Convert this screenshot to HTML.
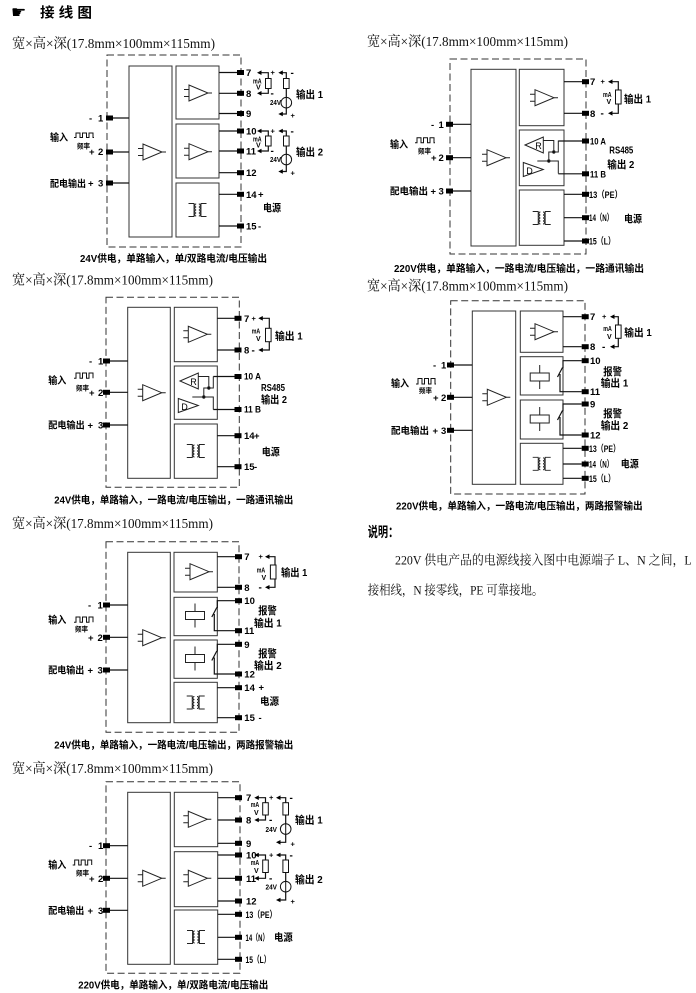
<!DOCTYPE html>
<html><head><meta charset="utf-8">
<style>
html,body{margin:0;padding:0;background:#fff;}
svg{display:block;}
.s{font-family:"Liberation Serif","Noto Serif CJK SC",serif;fill:#111;}
.b{font-family:"Liberation Sans","Noto Sans CJK SC",sans-serif;font-weight:bold;fill:#000;}
.n{font-family:"Liberation Sans","Noto Sans CJK SC",sans-serif;fill:#000;}
.bx{fill:none;stroke:#333;stroke-width:1;}
.ds{fill:none;stroke:#333;stroke-width:1;stroke-dasharray:7,3.5;}
.ln{fill:none;stroke:#111;stroke-width:1.2;}
.th{fill:none;stroke:#111;stroke-width:1;}
.rs{fill:#fff;stroke:#111;stroke-width:1;}
</style></head><body>
<svg width="696" height="993" viewBox="0 0 696 993" xmlns="http://www.w3.org/2000/svg">
<defs>
<g id="amp" fill="none" stroke="#222" stroke-width="1"><path d="M0,-8 L0,8 L19,0 Z"/><path d="M-5,-3.5 H0 M-5,3.5 H0 M19,0 H23"/></g>
<g id="xf" fill="none" stroke="#222" stroke-width="0.9"><path d="M-9,-6.5 H-3.5 V6.5 H-9 M9,-6.5 H3.5 V6.5 H9"/><path d="M-1.3,-6 a1.5,1.5 0 0 0 0,3 a1.5,1.5 0 0 0 0,3 a1.5,1.5 0 0 0 0,3 a1.5,1.5 0 0 0 0,3 M1.3,-6 a1.5,1.5 0 0 1 0,3 a1.5,1.5 0 0 1 0,3 a1.5,1.5 0 0 1 0,3 a1.5,1.5 0 0 1 0,3"/></g>
<g id="rly" fill="none" stroke="#222" stroke-width="1"><rect x="-9.5" y="-4" width="19" height="8"/><path d="M0,-12 V-4 M0,4 V12"/></g>
<rect id="tm" width="7" height="5" fill="#000"/>
<path id="arw" d="M0,0 L4.5,-2.3 L4.5,2.3 Z" fill="#000"/>
<g id="rsx" fill="none" stroke="#222" stroke-width="1"><path d="M5.7,15 L24,7 L24,23 Z"/><path d="M4,32.5 L4,46.5 L24,39.5 Z"/><path d="M24,10.5 H34.5 V22 M39,10.5 V22 H29.5 V31 M18,31 H39 V43.5"/><circle cx="34.5" cy="22" r="1.2" fill="#000"/><circle cx="29.5" cy="31" r="1.2" fill="#000"/></g>
</defs>

<!-- Title -->
<text x="11" y="18" font-family="DejaVu Sans, sans-serif" font-size="17" fill="#000">☛</text>
<text class="b" x="40" y="17.5" font-size="14" textLength="52" lengthAdjust="spacingAndGlyphs">接 线 图</text>

<!-- ================= Diagram A ================= -->
<text class="s" x="12" y="48" font-size="14" textLength="203" lengthAdjust="spacingAndGlyphs">宽×高×深(17.8mm×100mm×115mm)</text>
<rect class="ds" x="107" y="55" width="134" height="192"/>
<rect class="bx" x="129" y="66" width="43" height="171"/>
<rect class="bx" x="176" y="66" width="43" height="53"/>
<rect class="bx" x="176" y="124" width="43" height="54"/>
<rect class="bx" x="176" y="183" width="43" height="54"/>
<path class="ln" d="M113,118 H129 M113,152 H129 M113,183 H129 M219,72.5 H237 M219,93.3 H237 M219,113.5 H237 M219,131 H237 M219,151 H237 M219,172.7 H237 M219,194.3 H237 M219,226 H237"/>
<use href="#tm" x="106" y="115.5"/><use href="#tm" x="106" y="149.5"/><use href="#tm" x="106" y="180.5"/>
<use href="#tm" x="237" y="70"/><use href="#tm" x="237" y="90.8"/><use href="#tm" x="237" y="111"/><use href="#tm" x="237" y="128.5"/><use href="#tm" x="237" y="148.5"/><use href="#tm" x="237" y="170.2"/><use href="#tm" x="237" y="191.8"/><use href="#tm" x="237" y="223.5"/>
<use href="#amp" x="143" y="152"/><use href="#amp" x="189" y="93"/><use href="#amp" x="189" y="151.7"/>
<use href="#xf" x="197.5" y="210"/>
<g class="b" font-size="9.5">
<text x="246" y="76">7</text><text x="246" y="96.8">8</text><text x="246" y="117">9</text><text x="246" y="134.5">10</text><text x="246" y="154.5">11</text><text x="246" y="176.2">12</text><text x="246" y="197.8">14</text><text x="258" y="197.5">+</text><text x="246" y="229.5">15</text><text x="258" y="229.5">-</text>
<text x="89" y="121.5">-</text><text x="98" y="121.5">1</text><text x="89" y="155">+</text><text x="98" y="155">2</text><text x="88" y="186.5">+</text><text x="98" y="186.5">3</text>
</g>
<text class="b" x="50" y="186.8" font-size="9.5" textLength="36" lengthAdjust="spacingAndGlyphs">配电输出</text>
<text class="b" x="50" y="141" font-size="10" textLength="18" lengthAdjust="spacingAndGlyphs">输入</text>
<path class="th" d="M74,137.5 H76 V133 H80 V137.5 H82.5 V133 H86.5 V137.5 H89 V133 H93 V137.5 H94"/>
<text class="b" x="77" y="148.5" font-size="7" textLength="13" lengthAdjust="spacingAndGlyphs">频率</text>
<!-- output 1 -->
<path class="ln" d="M261,72.7 H268.3 V93.3 H261 M282.5,72.7 H286.3 V114 H282.5"/>
<use href="#arw" x="257" y="72.7"/><use href="#arw" x="257" y="93.3"/><use href="#arw" x="278.3" y="72.7"/><use href="#arw" x="278.3" y="114"/>
<rect class="rs" x="265.5" y="78.5" width="5.6" height="10"/><rect class="rs" x="283.5" y="78.5" width="5.6" height="10"/>
<circle class="rs" cx="286.3" cy="102.7" r="5.3"/><path class="th" d="M286.3,97.4 V108"/>
<g class="b" font-size="7.5"><text x="270.5" y="75">+</text><text x="290.5" y="118">+</text></g>
<g class="b" font-size="10"><text x="270.5" y="96.5">-</text><text x="290.5" y="76">-</text></g>
<text class="b" x="253" y="83.3" font-size="7" textLength="8.5" lengthAdjust="spacingAndGlyphs">mA</text><text class="b" x="256" y="89.5" font-size="7">V</text>
<text class="b" x="270" y="105" font-size="7" textLength="11" lengthAdjust="spacingAndGlyphs">24V</text>
<text class="b" x="296" y="97.8" font-size="10.5" textLength="27" lengthAdjust="spacingAndGlyphs">输出 1</text>
<!-- output 2 -->
<path class="ln" d="M261,131 H268.3 V151 H261 M282.5,131 H286.3 V171.5 H282.5"/>
<use href="#arw" x="257" y="131"/><use href="#arw" x="257" y="151"/><use href="#arw" x="278.3" y="131"/><use href="#arw" x="278.3" y="171.5"/>
<rect class="rs" x="265.5" y="136" width="5.6" height="10"/><rect class="rs" x="283.5" y="136" width="5.6" height="10"/>
<circle class="rs" cx="286.3" cy="159.5" r="5.3"/><path class="th" d="M286.3,154.2 V164.8"/>
<g class="b" font-size="7.5"><text x="270.5" y="133.3">+</text><text x="290.5" y="175.5">+</text></g>
<g class="b" font-size="10"><text x="270.5" y="154.2">-</text><text x="290.5" y="134.3">-</text></g>
<text class="b" x="253" y="141.5" font-size="7" textLength="8.5" lengthAdjust="spacingAndGlyphs">mA</text><text class="b" x="256" y="147.7" font-size="7">V</text>
<text class="b" x="270" y="162" font-size="7" textLength="11" lengthAdjust="spacingAndGlyphs">24V</text>
<text class="b" x="296" y="155.3" font-size="10.5" textLength="27" lengthAdjust="spacingAndGlyphs">输出 2</text>
<text class="b" x="263" y="211.5" font-size="10" textLength="18" lengthAdjust="spacingAndGlyphs">电源</text>
<text class="b" x="80" y="262" font-size="10" textLength="187" lengthAdjust="spacingAndGlyphs">24V供电，单路输入，单/双路电流/电压输出</text>

<!-- ================= Diagram B ================= -->
<text class="s" x="367" y="46" font-size="14" textLength="201" lengthAdjust="spacingAndGlyphs">宽×高×深(17.8mm×100mm×115mm)</text>
<rect class="ds" x="450" y="59" width="136" height="195"/>
<rect class="bx" x="471" y="69.3" width="45" height="176.7"/>
<rect class="bx" x="519.3" y="69.3" width="44.7" height="56.4"/>
<rect class="bx" x="519.3" y="130" width="44.7" height="55.7"/>
<rect class="bx" x="519.3" y="190" width="44.7" height="55.3"/>
<path class="ln" d="M453,124.3 H471 M453,157.7 H471 M453,191 H471 M564,81.7 H582 M564,113.3 H582 M558.3,141 H582 M558.3,173.8 H582 M564,194.3 H582 M564,217.7 H582 M564,241 H582"/>
<use href="#tm" x="446" y="121.8"/><use href="#tm" x="446" y="155.2"/><use href="#tm" x="446" y="188.5"/>
<use href="#tm" x="582" y="79.2"/><use href="#tm" x="582" y="110.8"/><use href="#tm" x="582" y="138.5"/><use href="#tm" x="582" y="171.3"/><use href="#tm" x="582" y="191.8"/><use href="#tm" x="582" y="215.2"/><use href="#tm" x="582" y="238.5"/>
<use href="#amp" x="487" y="157.7"/><use href="#amp" x="535" y="97.7"/>
<use href="#rsx" x="519.3" y="130"/>
<text class="n" x="535.3" y="149" font-size="9">R</text><text class="n" x="526.3" y="174" font-size="9">D</text>
<use href="#xf" x="541.7" y="218"/>
<g class="b" font-size="9.5">
<text x="590" y="85.2">7</text><text x="590" y="116.8">8</text>
<text x="431" y="127.8">-</text><text x="438.5" y="127.8">1</text><text x="431" y="161">+</text><text x="438.5" y="161">2</text><text x="430.5" y="194.5">+</text><text x="438.5" y="194.5">3</text>
</g>
<text class="b" x="590" y="144.5" font-size="9.5" textLength="16" lengthAdjust="spacingAndGlyphs">10 A</text>
<text class="b" x="590" y="177.5" font-size="9.5" textLength="16" lengthAdjust="spacingAndGlyphs">11 B</text>
<text class="b" x="589" y="197.8" font-size="9.5" textLength="33" lengthAdjust="spacingAndGlyphs">13（PE）</text>
<text class="b" x="589" y="221.2" font-size="9.5" textLength="24" lengthAdjust="spacingAndGlyphs">14（N）</text>
<text class="b" x="589" y="244.5" font-size="9.5" textLength="26" lengthAdjust="spacingAndGlyphs">15（L）</text>
<text class="b" x="609.3" y="153.3" font-size="10" textLength="24" lengthAdjust="spacingAndGlyphs">RS485</text>
<text class="b" x="607.3" y="168" font-size="10.5" textLength="27" lengthAdjust="spacingAndGlyphs">输出 2</text>
<text class="b" x="624" y="222.3" font-size="10" textLength="18" lengthAdjust="spacingAndGlyphs">电源</text>
<path class="ln" d="M612,81.7 H618.3 V113.3 H612"/>
<use href="#arw" x="608" y="81.7"/><use href="#arw" x="608" y="113.3"/>
<rect class="rs" x="615.5" y="90" width="5.6" height="14"/>
<text class="b" x="600.5" y="84" font-size="7.5">+</text><text class="b" x="600.5" y="116.5" font-size="10">-</text>
<text class="b" x="603" y="97" font-size="7" textLength="8.5" lengthAdjust="spacingAndGlyphs">mA</text><text class="b" x="606.5" y="104" font-size="7">V</text>
<text class="b" x="624" y="102.5" font-size="10.5" textLength="27" lengthAdjust="spacingAndGlyphs">输出 1</text>
<text class="b" x="390" y="194.5" font-size="9.5" textLength="38" lengthAdjust="spacingAndGlyphs">配电输出</text>
<text class="b" x="390" y="148" font-size="10" textLength="18" lengthAdjust="spacingAndGlyphs">输入</text>
<path class="th" d="M415,142.7 H417 V137.7 H421 V142.7 H423.5 V137.7 H427.5 V142.7 H430 V137.7 H434 V142.7 H435"/>
<text class="b" x="418" y="153.5" font-size="7" textLength="13" lengthAdjust="spacingAndGlyphs">频率</text>
<text class="b" x="394" y="272" font-size="10" textLength="250" lengthAdjust="spacingAndGlyphs">220V供电，单路输入，一路电流/电压输出，一路通讯输出</text>

<!-- ================= Diagram C ================= -->
<text class="s" x="12" y="284.5" font-size="14" textLength="201" lengthAdjust="spacingAndGlyphs">宽×高×深(17.8mm×100mm×115mm)</text>
<rect class="ds" x="106" y="297.3" width="133.3" height="190"/>
<rect class="bx" x="127.7" y="307.3" width="42.6" height="171"/>
<rect class="bx" x="174.3" y="307.3" width="43" height="54.4"/>
<rect class="bx" x="174.3" y="366" width="43" height="53.3"/>
<rect class="bx" x="174.3" y="424" width="43" height="54.3"/>
<path class="ln" d="M110,361 H127.7 M110,392.3 H127.7 M110,425 H127.7 M217.3,318.3 H234.5 M217.3,350 H234.5 M213.3,376.5 H234.5 M213.3,409.5 H234.5 M217.3,435.7 H234.5 M217.3,466.7 H234.5"/>
<use href="#tm" x="103" y="358.5"/><use href="#tm" x="103" y="389.8"/><use href="#tm" x="103" y="422.5"/>
<use href="#tm" x="234.5" y="315.8"/><use href="#tm" x="234.5" y="347.5"/><use href="#tm" x="234.5" y="374"/><use href="#tm" x="234.5" y="407"/><use href="#tm" x="234.5" y="433.2"/><use href="#tm" x="234.5" y="464.2"/>
<use href="#amp" x="142.7" y="392.7"/><use href="#amp" x="188.3" y="334.3"/>
<use href="#rsx" x="174.3" y="366"/>
<text class="n" x="190.3" y="385" font-size="9">R</text><text class="n" x="181.3" y="410" font-size="9">D</text>
<use href="#xf" x="195.8" y="451"/>
<g class="b" font-size="9.5">
<text x="244" y="321.8">7</text><text x="244" y="353.5">8</text><text x="244" y="439.2">14</text><text x="254" y="439">+</text><text x="244" y="470.2">15</text><text x="254" y="470.2">-</text>
<text x="89" y="364.5">-</text><text x="98" y="364.5">1</text><text x="89" y="395.8">+</text><text x="98" y="395.8">2</text><text x="87.5" y="428.5">+</text><text x="98" y="428.5">3</text>
</g>
<text class="b" x="244" y="379.5" font-size="9.5" textLength="17" lengthAdjust="spacingAndGlyphs">10 A</text>
<text class="b" x="244" y="412.5" font-size="9.5" textLength="17" lengthAdjust="spacingAndGlyphs">11 B</text>
<text class="b" x="261" y="391" font-size="10" textLength="24" lengthAdjust="spacingAndGlyphs">RS485</text>
<text class="b" x="261" y="403" font-size="10.5" textLength="26" lengthAdjust="spacingAndGlyphs">输出 2</text>
<text class="b" x="261.7" y="455.5" font-size="10" textLength="18" lengthAdjust="spacingAndGlyphs">电源</text>
<path class="ln" d="M262.5,318.3 H269.3 V350 H262.5"/>
<use href="#arw" x="258.3" y="318.3"/><use href="#arw" x="258.3" y="350"/>
<rect class="rs" x="265.5" y="328.3" width="5.6" height="13.4"/>
<text class="b" x="251.5" y="320.8" font-size="7.5">+</text><text class="b" x="251.5" y="353.3" font-size="10">-</text>
<text class="b" x="251.7" y="333.5" font-size="7" textLength="8.5" lengthAdjust="spacingAndGlyphs">mA</text><text class="b" x="256" y="341" font-size="7">V</text>
<text class="b" x="275" y="339.5" font-size="10.5" textLength="27.7" lengthAdjust="spacingAndGlyphs">输出 1</text>
<text class="b" x="48.3" y="428.5" font-size="9.5" textLength="36.5" lengthAdjust="spacingAndGlyphs">配电输出</text>
<text class="b" x="48.3" y="383.8" font-size="10" textLength="18" lengthAdjust="spacingAndGlyphs">输入</text>
<path class="th" d="M74,378.3 H76 V373 H80 V378.3 H82.5 V373 H86.5 V378.3 H89 V373 H93 V378.3"/>
<text class="b" x="76" y="390.5" font-size="7" textLength="13" lengthAdjust="spacingAndGlyphs">频率</text>
<text class="b" x="54.3" y="503.5" font-size="10" textLength="239" lengthAdjust="spacingAndGlyphs">24V供电，单路输入，一路电流/电压输出，一路通讯输出</text>

<!-- ================= Diagram D ================= -->
<text class="s" x="367" y="290.5" font-size="14" textLength="201" lengthAdjust="spacingAndGlyphs">宽×高×深(17.8mm×100mm×115mm)</text>
<rect class="ds" x="450.7" y="300.7" width="134.3" height="193.3"/>
<rect class="bx" x="472.3" y="311" width="43.4" height="173.3"/>
<rect class="bx" x="520.3" y="311" width="42.7" height="41.3"/>
<rect class="bx" x="520.3" y="356.7" width="42.7" height="38.3"/>
<rect class="bx" x="520.3" y="400" width="42.7" height="39"/>
<rect class="bx" x="520.3" y="443.3" width="42.7" height="41"/>
<path class="ln" d="M454,365 H472.3 M454,397.3 H472.3 M454,430.3 H472.3 M563,316.7 H581.7 M563,346.7 H581.7 M563,448.3 H581.7 M563,464 H581.7 M563,478.3 H581.7"/>
<path class="ln" d="M581.7,360.7 H563 V368 M562.5,367.5 L557.5,377 M560,374 V391.7 H581.7 M581.7,404 H563 V411 M562.5,410.5 L557.5,420 M560,417 V435 H581.7"/>
<use href="#rly" x="539.7" y="377"/><use href="#rly" x="539.7" y="419"/>
<use href="#tm" x="447" y="362.5"/><use href="#tm" x="447" y="394.8"/><use href="#tm" x="447" y="427.8"/>
<use href="#tm" x="581.7" y="314.2"/><use href="#tm" x="581.7" y="344.2"/><use href="#tm" x="581.7" y="358.2"/><use href="#tm" x="581.7" y="389.2"/><use href="#tm" x="581.7" y="401.5"/><use href="#tm" x="581.7" y="432.5"/><use href="#tm" x="581.7" y="445.8"/><use href="#tm" x="581.7" y="461.5"/><use href="#tm" x="581.7" y="475.8"/>
<use href="#amp" x="487.3" y="397.3"/><use href="#amp" x="535" y="331.7"/>
<use href="#xf" x="541.7" y="463.8"/>
<g class="b" font-size="9.5">
<text x="590" y="320.2">7</text><text x="590" y="350.2">8</text><text x="590" y="364.2">10</text><text x="590" y="395.2">11</text><text x="590" y="407.5">9</text><text x="590" y="438.5">12</text>
<text x="433" y="368.5">-</text><text x="441" y="368.5">1</text><text x="433" y="400.8">+</text><text x="441" y="400.8">2</text><text x="432.5" y="433.8">+</text><text x="441" y="433.8">3</text>
</g>
<text class="b" x="589" y="451.8" font-size="9.5" textLength="31" lengthAdjust="spacingAndGlyphs">13（PE）</text>
<text class="b" x="589" y="467.5" font-size="9.5" textLength="24" lengthAdjust="spacingAndGlyphs">14（N）</text>
<text class="b" x="589" y="481.8" font-size="9.5" textLength="26" lengthAdjust="spacingAndGlyphs">15（L）</text>
<text class="b" x="620.7" y="467.5" font-size="10" textLength="18" lengthAdjust="spacingAndGlyphs">电源</text>
<text class="b" x="603.3" y="375.2" font-size="10.5" textLength="18.7" lengthAdjust="spacingAndGlyphs">报警</text>
<text class="b" x="600.7" y="386.5" font-size="10.5" textLength="27.6" lengthAdjust="spacingAndGlyphs">输出 1</text>
<text class="b" x="603.3" y="417" font-size="10.5" textLength="18.7" lengthAdjust="spacingAndGlyphs">报警</text>
<text class="b" x="600.7" y="428.8" font-size="10.5" textLength="27.6" lengthAdjust="spacingAndGlyphs">输出 2</text>
<path class="ln" d="M614,316.7 H618.3 V346.7 H614"/>
<use href="#arw" x="610" y="316.7"/><use href="#arw" x="610" y="346.7"/>
<rect class="rs" x="615.5" y="325" width="5.6" height="13.3"/>
<text class="b" x="602" y="319.2" font-size="7.5">+</text><text class="b" x="602" y="350" font-size="10">-</text>
<text class="b" x="603.3" y="331" font-size="7" textLength="8.5" lengthAdjust="spacingAndGlyphs">mA</text><text class="b" x="607" y="339" font-size="7">V</text>
<text class="b" x="624.3" y="336" font-size="10.5" textLength="27.4" lengthAdjust="spacingAndGlyphs">输出 1</text>
<text class="b" x="391" y="433.8" font-size="9.5" textLength="38" lengthAdjust="spacingAndGlyphs">配电输出</text>
<text class="b" x="391" y="386.8" font-size="10" textLength="18" lengthAdjust="spacingAndGlyphs">输入</text>
<path class="th" d="M416,384 H418 V378.5 H422 V384 H424.5 V378.5 H428.5 V384 H431 V378.5 H435 V384 H436"/>
<text class="b" x="419" y="393" font-size="7" textLength="13" lengthAdjust="spacingAndGlyphs">频率</text>
<text class="b" x="396" y="509.5" font-size="10" textLength="246.7" lengthAdjust="spacingAndGlyphs">220V供电，单路输入，一路电流/电压输出，两路报警输出</text>

<!-- ================= Diagram E ================= -->
<text class="s" x="12" y="527.8" font-size="14" textLength="201" lengthAdjust="spacingAndGlyphs">宽×高×深(17.8mm×100mm×115mm)</text>
<rect class="ds" x="106" y="541.7" width="133" height="190.6"/>
<rect class="bx" x="127.7" y="552.3" width="42.6" height="170.4"/>
<rect class="bx" x="174" y="552.3" width="43.3" height="39.7"/>
<rect class="bx" x="174" y="597.3" width="43.3" height="38.4"/>
<rect class="bx" x="174" y="640" width="43.3" height="38.3"/>
<rect class="bx" x="174" y="682.3" width="43.3" height="40.4"/>
<path class="ln" d="M110,605 H127.7 M110,637.3 H127.7 M110,670 H127.7 M217.3,556.7 H235 M217.3,587.3 H235 M217.3,687.7 H235 M217.3,717.7 H235"/>
<path class="ln" d="M235,600.7 H217.3 V608 M216.8,607.5 L211.8,617 M214.3,614 V630.7 H235 M235,644.3 H217.3 V651.5 M216.8,651 L211.8,660.5 M214.3,657.5 V674 H235"/>
<use href="#rly" x="195" y="615.5"/><use href="#rly" x="195" y="658.5"/>
<use href="#tm" x="103" y="602.5"/><use href="#tm" x="103" y="634.8"/><use href="#tm" x="103" y="667.5"/>
<use href="#tm" x="235" y="554.2"/><use href="#tm" x="235" y="584.8"/><use href="#tm" x="235" y="598.2"/><use href="#tm" x="235" y="628.2"/><use href="#tm" x="235" y="641.8"/><use href="#tm" x="235" y="671.5"/><use href="#tm" x="235" y="685.2"/><use href="#tm" x="235" y="715.2"/>
<use href="#amp" x="142.7" y="637.7"/><use href="#amp" x="190" y="571.7"/>
<use href="#xf" x="195.7" y="702.5"/>
<g class="b" font-size="9.5">
<text x="244.3" y="560.2">7</text><text x="244.3" y="590.8">8</text><text x="244.3" y="604.2">10</text><text x="244.3" y="634.2">11</text><text x="244.3" y="647.8">9</text><text x="244.3" y="677.5">12</text><text x="244.3" y="691.2">14</text><text x="258.5" y="690.5">+</text><text x="244.3" y="721.2">15</text><text x="258.5" y="721">-</text>
<text x="88" y="608.5">-</text><text x="97.5" y="608.5">1</text><text x="88" y="640.8">+</text><text x="97.5" y="640.8">2</text><text x="87.5" y="673.5">+</text><text x="97.5" y="673.5">3</text>
</g>
<text class="b" x="258.3" y="614.2" font-size="10.5" textLength="18.4" lengthAdjust="spacingAndGlyphs">报警</text>
<text class="b" x="254" y="626.5" font-size="10.5" textLength="27.7" lengthAdjust="spacingAndGlyphs">输出 1</text>
<text class="b" x="258.3" y="656.8" font-size="10.5" textLength="18.4" lengthAdjust="spacingAndGlyphs">报警</text>
<text class="b" x="254" y="669.2" font-size="10.5" textLength="27.7" lengthAdjust="spacingAndGlyphs">输出 2</text>
<text class="b" x="260" y="705.2" font-size="10" textLength="19" lengthAdjust="spacingAndGlyphs">电源</text>
<path class="ln" d="M269,556.7 H275 V587.3 H269"/>
<use href="#arw" x="265" y="556.7"/><use href="#arw" x="265" y="587.3"/>
<rect class="rs" x="270.4" y="565" width="5.6" height="14"/>
<text class="b" x="258.5" y="559.2" font-size="7.5">+</text><text class="b" x="258.5" y="590.5" font-size="10">-</text>
<text class="b" x="256.7" y="572.5" font-size="7" textLength="8.5" lengthAdjust="spacingAndGlyphs">mA</text><text class="b" x="261.5" y="580" font-size="7">V</text>
<text class="b" x="281" y="576.2" font-size="10.5" textLength="26.3" lengthAdjust="spacingAndGlyphs">输出 1</text>
<text class="b" x="48.3" y="673.5" font-size="9.5" textLength="36" lengthAdjust="spacingAndGlyphs">配电输出</text>
<text class="b" x="48.3" y="623.5" font-size="10" textLength="18" lengthAdjust="spacingAndGlyphs">输入</text>
<path class="th" d="M74,622.3 H76 V617 H80 V622.3 H82.5 V617 H86.5 V622.3 H89 V617 H93 V622.3"/>
<text class="b" x="75" y="631.5" font-size="7" textLength="13" lengthAdjust="spacingAndGlyphs">频率</text>
<text class="b" x="54.3" y="748.5" font-size="10" textLength="239" lengthAdjust="spacingAndGlyphs">24V供电，单路输入，一路电流/电压输出，两路报警输出</text>

<!-- ================= Diagram F ================= -->
<text class="s" x="12" y="773" font-size="14" textLength="201" lengthAdjust="spacingAndGlyphs">宽×高×深(17.8mm×100mm×115mm)</text>
<rect class="ds" x="106" y="781.7" width="134" height="191.6"/>
<rect class="bx" x="127.7" y="792.3" width="42.6" height="172"/>
<rect class="bx" x="174.3" y="792.3" width="43.4" height="54.4"/>
<rect class="bx" x="174.3" y="851.7" width="43.4" height="55"/>
<rect class="bx" x="174.3" y="910" width="43.4" height="54.3"/>
<path class="ln" d="M110,845.7 H127.7 M110,878.3 H127.7 M110,910.3 H127.7 M217.7,797.7 H235 M217.7,820 H235 M217.7,843.3 H235 M217.7,855 H235 M217.7,878.3 H235 M217.7,901 H235 M217.7,914.3 H235 M217.7,937.3 H235 M217.7,959.3 H235"/>
<use href="#tm" x="103" y="843.2"/><use href="#tm" x="103" y="875.8"/><use href="#tm" x="103" y="907.8"/>
<use href="#tm" x="235" y="795.2"/><use href="#tm" x="235" y="817.5"/><use href="#tm" x="235" y="840.8"/><use href="#tm" x="235" y="852.5"/><use href="#tm" x="235" y="875.8"/><use href="#tm" x="235" y="898.5"/><use href="#tm" x="235" y="911.8"/><use href="#tm" x="235" y="934.8"/><use href="#tm" x="235" y="956.8"/>
<use href="#amp" x="142.7" y="878.3"/><use href="#amp" x="188.3" y="819.3"/><use href="#amp" x="188.3" y="878.3"/>
<use href="#xf" x="196" y="937"/>
<g class="b" font-size="9.5">
<text x="246" y="801.2">7</text><text x="246" y="823.5">8</text><text x="246" y="846.8">9</text><text x="246" y="858.5">10</text><text x="246" y="881.8">11</text><text x="246" y="904.5">12</text>
<text x="89" y="849.2">-</text><text x="98" y="849.2">1</text><text x="89" y="881.8">+</text><text x="98" y="881.8">2</text><text x="87.5" y="913.8">+</text><text x="98" y="913.8">3</text>
</g>
<text class="b" x="245.5" y="917.8" font-size="9.5" textLength="31" lengthAdjust="spacingAndGlyphs">13（PE）</text>
<text class="b" x="245.5" y="940.8" font-size="9.5" textLength="23" lengthAdjust="spacingAndGlyphs">14（N）</text>
<text class="b" x="245.5" y="962.8" font-size="9.5" textLength="25" lengthAdjust="spacingAndGlyphs">15（L）</text>
<text class="b" x="274" y="940.8" font-size="10" textLength="18.7" lengthAdjust="spacingAndGlyphs">电源</text>
<!-- F output 1 -->
<path class="ln" d="M258.5,797.7 H265.5 V820 H258.5 M280,797.7 H285.7 V842.3 H280"/>
<use href="#arw" x="254.3" y="797.7"/><use href="#arw" x="254.3" y="820"/><use href="#arw" x="276" y="797.7"/><use href="#arw" x="276" y="842.3"/>
<rect class="rs" x="262.7" y="802.7" width="5.6" height="12.3"/><rect class="rs" x="282.9" y="802.7" width="5.6" height="12.3"/>
<circle class="rs" cx="285.7" cy="829" r="5.3"/><path class="th" d="M285.7,823.7 V834.3"/>
<g class="b" font-size="7.5"><text x="269" y="800">+</text><text x="290.5" y="846.3">+</text></g>
<g class="b" font-size="10"><text x="269" y="823.2">-</text><text x="289.5" y="801">-</text></g>
<text class="b" x="250.7" y="807" font-size="7" textLength="8.5" lengthAdjust="spacingAndGlyphs">mA</text><text class="b" x="254" y="815" font-size="7">V</text>
<text class="b" x="265.5" y="832" font-size="7" textLength="11.5" lengthAdjust="spacingAndGlyphs">24V</text>
<text class="b" x="295" y="823.5" font-size="10.5" textLength="27.7" lengthAdjust="spacingAndGlyphs">输出 1</text>
<!-- F output 2 -->
<path class="ln" d="M258.5,855 H265.5 V878.3 H258.5 M280,855 H285.7 V900 H280"/>
<use href="#arw" x="254.3" y="855"/><use href="#arw" x="254.3" y="878.3"/><use href="#arw" x="276" y="855"/><use href="#arw" x="276" y="900"/>
<rect class="rs" x="262.7" y="860" width="5.6" height="12.5"/><rect class="rs" x="282.9" y="860" width="5.6" height="12.5"/>
<circle class="rs" cx="285.7" cy="886.7" r="5.3"/><path class="th" d="M285.7,881.4 V892"/>
<g class="b" font-size="7.5"><text x="269" y="857.3">+</text><text x="290.5" y="904">+</text></g>
<g class="b" font-size="10"><text x="269" y="881.5">-</text><text x="289.5" y="858.3">-</text></g>
<text class="b" x="250.7" y="865" font-size="7" textLength="8.5" lengthAdjust="spacingAndGlyphs">mA</text><text class="b" x="254" y="873" font-size="7">V</text>
<text class="b" x="265.5" y="889.5" font-size="7" textLength="11.5" lengthAdjust="spacingAndGlyphs">24V</text>
<text class="b" x="295" y="883" font-size="10.5" textLength="27.7" lengthAdjust="spacingAndGlyphs">输出 2</text>
<text class="b" x="48.3" y="913.8" font-size="9.5" textLength="36" lengthAdjust="spacingAndGlyphs">配电输出</text>
<text class="b" x="48.3" y="868.5" font-size="10" textLength="18" lengthAdjust="spacingAndGlyphs">输入</text>
<path class="th" d="M72.7,865 H74.7 V860 H78.7 V865 H81.2 V860 H85.2 V865 H87.7 V860 H91.7 V865"/>
<text class="b" x="76" y="875.5" font-size="7" textLength="13" lengthAdjust="spacingAndGlyphs">频率</text>
<text class="b" x="78.3" y="988.5" font-size="10" textLength="190" lengthAdjust="spacingAndGlyphs">220V供电，单路输入，单/双路电流/电压输出</text>

<!-- ================= Description ================= -->
<text class="b" x="367.7" y="537" font-size="14" textLength="30.6" lengthAdjust="spacingAndGlyphs">说明：</text>
<text class="s" x="395" y="564.5" font-size="13" textLength="296.7" lengthAdjust="spacingAndGlyphs">220V 供电产品的电源线接入图中电源端子 L、N 之间，L</text>
<text class="s" x="367.7" y="594.5" font-size="13" textLength="175.6" lengthAdjust="spacingAndGlyphs">接相线，N 接零线，PE 可靠接地。</text>
</svg>
</body></html>
